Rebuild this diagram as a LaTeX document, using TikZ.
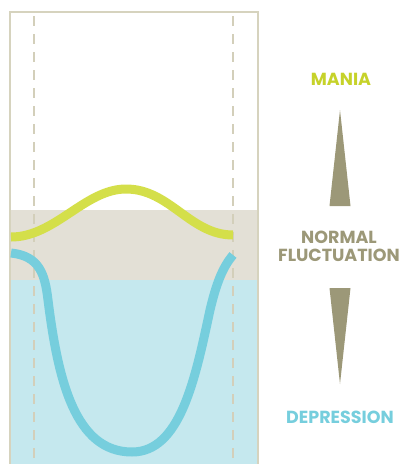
\documentclass[tikz,border=0pt]{standalone}
\usepackage{fontspec}
\setmainfont{Poppins}
\usepackage{tikz}
\usetikzlibrary{calc}
\definecolor{mood@frame}{RGB}{214,211,190}
\definecolor{mood@dash}{RGB}{211,207,186}
\definecolor{mood@band}{RGB}{227,224,214}
\definecolor{mood@pale}{RGB}{197,232,238}
\definecolor{mood@blue}{RGB}{118,206,221}
\definecolor{mood@lime}{RGB}{212,223,74}
\definecolor{mood@limetext}{RGB}{198,210,42}
\definecolor{mood@olive}{RGB}{156,152,120}
\tikzset{
  mood/.style={
    x=1pt, y=-1pt,
    line width=0.5pt,
    every node/.style={inner sep=0pt, font=\fontsize{17.5}{18}\selectfont\bfseries}
  },
  label/.style={                   % right-hand captions
    align=center
  },
  guide/.style={draw=mood@dash, line width=1.8pt, dash pattern=on 10pt off 8pt},
  moodline/.style={line width=9pt, line cap=butt},
  spike/.style={fill=mood@olive}
}

\begin{document}
\begin{tikzpicture}[mood]
\useasboundingbox (0,0) rectangle (401,464);

% zones
\fill[mood@band] (11,210) rectangle (258,280);
\fill[mood@pale] (11,280) rectangle (258,470);
\draw[mood@frame, line width=1.5pt] (10,470) |- (258,12) -- (258,470);

% guides
\draw[guide] (34,16) -- (34,470);
\draw[guide] (233,16) -- (233,470);

% mood curves
\draw[moodline, draw=mood@lime] (11,237)
  .. controls (55,237) and (85,189) .. (126,189)
  .. controls (170,189) and (190,235) .. (233,235);
\draw[moodline, draw=mood@blue] (11,253)
  .. controls (40,256) and (45,275) .. (48,300)
  .. controls (58,380) and (75,452) .. (132,452)
  .. controls (180,452) and (195,380) .. (210,310)
  .. controls (216,285) and (222,268) .. (233,255);

% captions
\node[label, text=mood@limetext] (mania)  at (341,79)    {MANIA};
\node[label, text=mood@olive]    (normal) at (339,246.5) {NORMAL\\FLUCTUATION};
\node[label, text=mood@blue]     (depr)   at (340,417.5) {DEPRESSION};

% spikes
\coordinate (uptip)  at (340,110);
\coordinate (upbase) at (340,206);
\coordinate (dntop)  at (340,288);
\coordinate (dntip)  at (340,384);
\fill[spike] (uptip) -- ($(upbase)+(10.5,0)$) -- ($(upbase)+(-10.5,0)$) -- cycle;
\fill[spike] (dntip) -- ($(dntop)+(10.5,0)$) -- ($(dntop)+(-10.5,0)$) -- cycle;

\end{tikzpicture}
\end{document}
